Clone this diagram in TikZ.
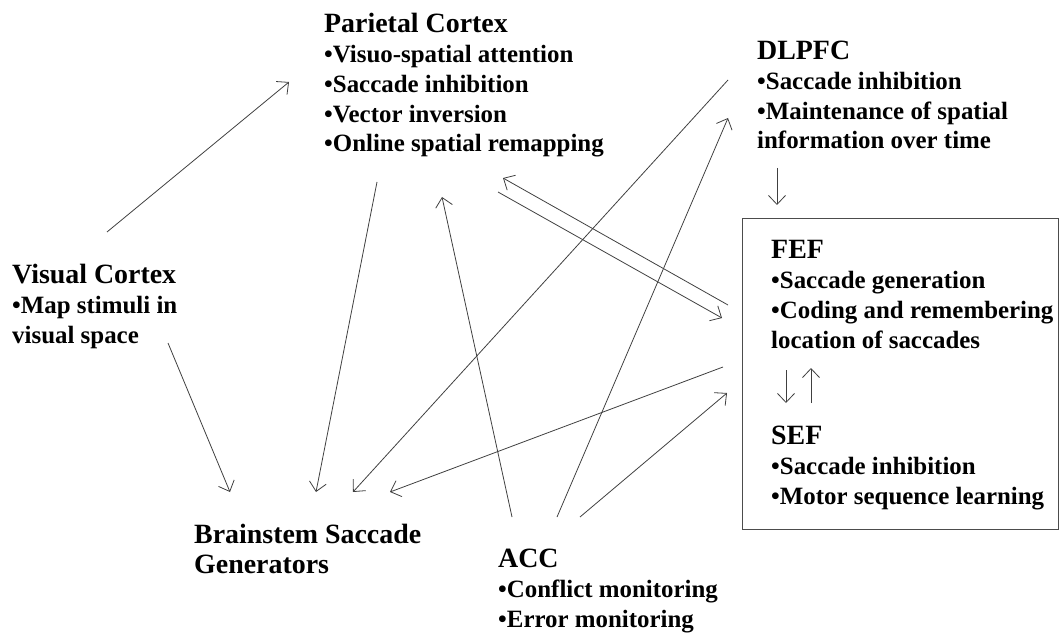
\documentclass[tikz,border=0pt]{standalone}
\usepackage{fontspec}
\setmainfont{Liberation Serif}
\usepackage{tikz}
\usetikzlibrary{arrows.meta}

\newcommand{\hd}[1]{{\fontsize{28}{30}\selectfont #1}}

\begin{document}
\begin{tikzpicture}[
  x=1bp, y=-1bp,
  area/.style={anchor=base west, align=left, inner sep=0pt, font=\fontsize{25}{30}\selectfont\bfseries},
  frame/.style={rectangle, draw=black!70, line width=1.2bp, anchor=north west, minimum width=316bp, minimum height=311bp, inner sep=0pt},
  arrow/.style={-{Straight Barb[length=9bp,width=17bp]}, line width=0.8bp, black!75}
]
\useasboundingbox (0,0) rectangle (1060,637);

% Regions (placed by the baseline of their last line)
\node[area] (par) at (324,152) {\hd{Parietal Cortex}\\ •Visuo-spatial attention\\ •Saccade inhibition\\ •Vector inversion\\ •Online spatial remapping};
\node[area] (dlpfc) at (757,149) {\hd{DLPFC}\\ •Saccade inhibition\\ •Maintenance of spatial\\ information over time};
\node[area] (vis) at (12,343) {\hd{Visual Cortex}\\ •Map stimuli in\\ visual space};
\node[area] (bsg) at (194,573) {\hd{Brainstem Saccade}\\ \hd{Generators}};
\node[area] (acc) at (498,627) {\hd{ACC}\\ •Conflict monitoring\\ •Error monitoring};

% Frontal eye fields
\node[frame] (fefbox) at (742,218) {};
\node[area] (fef) at (771,348) {\hd{FEF}\\ •Saccade generation\\ •Coding and remembering\\ location of saccades};
\node[area] (sef) at (771,504) {\hd{SEF}\\ •Saccade inhibition\\ •Motor sequence learning};

% Arrow ends
\coordinate (vis-a) at (107,232);
\coordinate (vis-b) at (168,343);
\coordinate (par-a) at (289,82);
\coordinate (par-b) at (377,182);
\coordinate (par-c) at (442,197);
\coordinate (par-d) at (503,178);
\coordinate (par-e) at (498,192);
\coordinate (dl-a) at (728,80);
\coordinate (dl-b) at (728,118);
\coordinate (dl-c) at (777,168);
\coordinate (fef-a) at (728,305);
\coordinate (fef-b) at (722,318);
\coordinate (fef-c) at (723,367);
\coordinate (fef-d) at (727,393);
\coordinate (fef-e) at (777,205);
\coordinate (bsg-a) at (230,492);
\coordinate (bsg-b) at (316,492);
\coordinate (bsg-c) at (353,492);
\coordinate (bsg-d) at (390,492);
\coordinate (acc-a) at (512,517);
\coordinate (acc-b) at (557,517);
\coordinate (acc-c) at (580,517);
\coordinate (fs-a) at (786,370);
\coordinate (fs-b) at (786,403);
\coordinate (fs-c) at (811,403);
\coordinate (fs-d) at (811,368);

% Arrows
\draw[arrow] (vis-a) -- (par-a);
\draw[arrow] (vis-b) -- (bsg-a);
\draw[arrow] (par-b) -- (bsg-b);
\draw[arrow] (acc-a) -- (par-c);
\draw[arrow] (dl-a) -- (bsg-c);
\draw[arrow] (acc-b) -- (dl-b);
\draw[arrow] (fef-a) -- (par-d);
\draw[arrow] (par-e) -- (fef-b);
\draw[arrow] (fef-c) -- (bsg-d);
\draw[arrow] (acc-c) -- (fef-d);
\draw[arrow] (dl-c) -- (fef-e);
\draw[arrow] (fs-a) -- (fs-b);
\draw[arrow] (fs-c) -- (fs-d);

\end{tikzpicture}
\end{document}
